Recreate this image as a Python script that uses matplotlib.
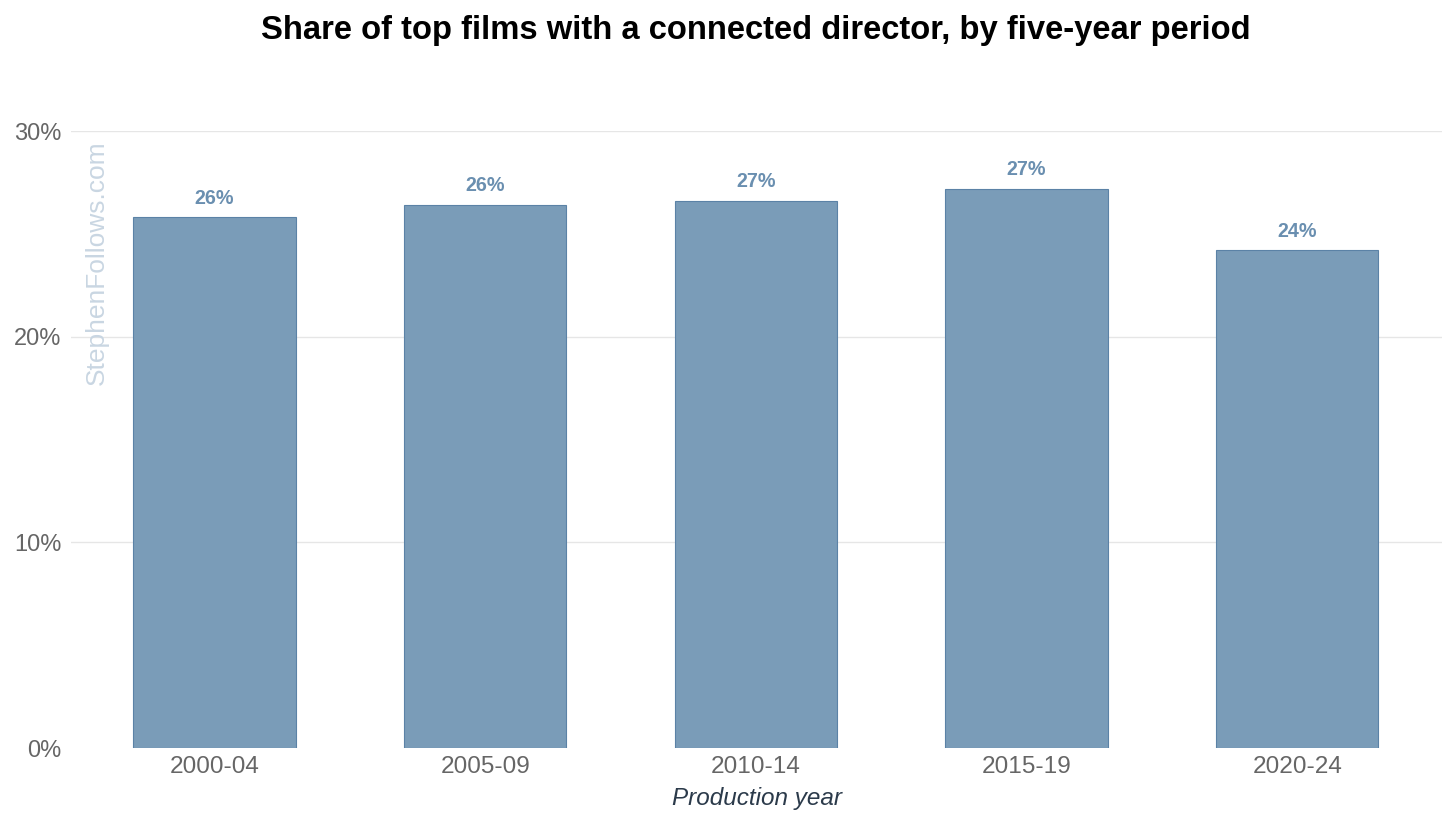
import matplotlib
matplotlib.use('Agg')
from matplotlib import pyplot as plt
from matplotlib.ticker import FuncFormatter

plt.rcParams['font.family'] = ['Liberation Sans', 'DejaVu Sans']

periods = ['2000-04', '2005-09', '2010-14', '2015-19', '2020-24']
sharePct = [25.8, 26.4, 26.6, 27.2, 24.2]
barLabels = ['26%', '26%', '27%', '27%', '24%']

fig = plt.figure(figsize=(14.56, 8.25), dpi=100)
ax = fig.add_axes([0.0488, 0.0933, 0.9416, 0.7479])

xpos = range(len(periods))
ax.bar(xpos, sharePct, width=0.6, color='#7a9cb8', edgecolor='#5b82a6',
       linewidth=0.8, zorder=2)

for x, val, lab in zip(xpos, sharePct, barLabels):
    ax.annotate(lab, (x, val), xytext=(0, 7), textcoords='offset points',
                ha='center', va='bottom', fontsize=14.2, fontweight='bold',
                color='#6a8fb0')

ax.set_xlim(-0.53, 4.535)
ax.set_ylim(0, 30)
ax.set_yticks([0, 10, 20, 30])
ax.yaxis.set_major_formatter(FuncFormatter(lambda v, p: '{:.0f}%'.format(v)))
ax.set_xticks(list(xpos))
ax.set_xticklabels(periods)

for g in [10, 20, 30]:
    ax.axhline(g, color='#e6e6e6', linewidth=1, zorder=1)

for s in ax.spines.values():
    s.set_visible(False)
ax.tick_params(axis='both', length=0, labelsize=17, colors='#666666')
ax.tick_params(axis='x', labelsize=17.6, pad=6)
ax.tick_params(axis='y', pad=7)

ax.set_xlabel('Production year', fontsize=17.5, style='italic', color='#2b3a4a',
              labelpad=6)

ax.text(0.019, 0.985, 'StephenFollows.com', transform=ax.transAxes,
        rotation=90, ha='center', va='top', fontsize=19, color='#c9d6e2',
        zorder=3)

fig.suptitle('Share of top films with a connected director, by five-year period',
             x=0.519, y=0.982, fontsize=23.6, fontweight='bold', color='black')

plt.savefig('out.png', dpi=100)
